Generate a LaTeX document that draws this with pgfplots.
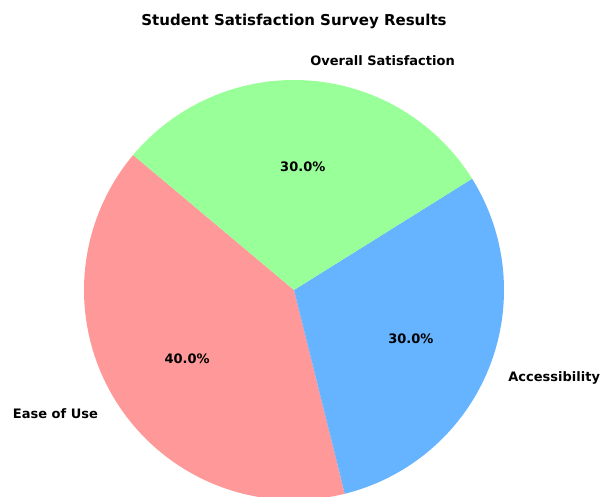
\documentclass[border=0pt]{standalone}
\usepackage{pgfplots}
\pgfplotsset{compat=1.18}
\usepackage{fontspec}
\setmainfont{DejaVu Sans}
\definecolor{cRed}{HTML}{FF9999}
\definecolor{cBlue}{HTML}{66B3FF}
\definecolor{cGreen}{HTML}{99FF99}
% data (percent)
\def\vEase{40}
\def\vAcc{30}
\def\vOver{30}
\def\startang{140}
\def\cx{294}
\def\cy{207}
\def\R{210}
\begin{document}
\begin{tikzpicture}
\pgfmathsetmacro{\aA}{\startang}
\pgfmathsetmacro{\aB}{\aA+3.6*\vEase}
\pgfmathsetmacro{\aC}{\aB+3.6*\vAcc}
\pgfmathsetmacro{\aD}{\aC+3.6*\vOver}
\begin{axis}[
  scale only axis, width=614pt, height=497pt,
  xmin=0, xmax=614, ymin=0, ymax=497,
  hide axis, clip=true,
]
\path[fill=white] (axis cs:0,0) rectangle (axis cs:614,497);
\addplot[fill=cRed, draw=none, domain=\aA:\aB, samples=120, variable=\t]
  ({\cx+\R*cos(\t)},{\cy+\R*sin(\t)}) -- (axis cs:\cx,\cy) -- cycle;
\addplot[fill=cBlue, draw=none, domain=\aB:\aC, samples=100, variable=\t]
  ({\cx+\R*cos(\t)},{\cy+\R*sin(\t)}) -- (axis cs:\cx,\cy) -- cycle;
\addplot[fill=cGreen, draw=none, domain=\aC:\aD, samples=100, variable=\t]
  ({\cx+\R*cos(\t)},{\cy+\R*sin(\t)}) -- (axis cs:\cx,\cy) -- cycle;
\end{axis}
\begin{axis}[
  scale only axis, width=614pt, height=497pt,
  xmin=0, xmax=614, ymin=0, ymax=497,
  hide axis, clip=false,
]
\pgfmathsetmacro{\mA}{(\aA+\aB)/2}
\pgfmathsetmacro{\mB}{(\aB+\aC)/2}
\pgfmathsetmacro{\mC}{(\aC+\aD)/2}
\node[font=\bfseries\fontsize{15}{18}\selectfont] at (axis cs:294,475.5) {Student Satisfaction Survey Results};
\node[font=\bfseries\fontsize{13}{15}\selectfont, anchor=east, inner sep=0pt] at (axis cs:{\cx+1.1*\R*cos(\mA)},{\cy-1+1.1*\R*sin(\mA)}) {Ease of Use};
\node[font=\bfseries\fontsize{13}{15}\selectfont, anchor=west, inner sep=0pt] at (axis cs:{\cx+1.1*\R*cos(\mB)},{\cy-1+1.1*\R*sin(\mB)}) {Accessibility};
\node[font=\bfseries\fontsize{13}{15}\selectfont, anchor=west, inner sep=0pt] at (axis cs:{\cx+1.1*\R*cos(\mC)},{\cy-1+1.1*\R*sin(\mC)}) {Overall Satisfaction};
\node[font=\bfseries\fontsize{13}{15}\selectfont, inner sep=0pt] at (axis cs:{\cx+0.6*\R*cos(\mA)},{\cy-2+0.6*\R*sin(\mA)}) {40.0\%};
\node[font=\bfseries\fontsize{13}{15}\selectfont, inner sep=0pt] at (axis cs:{\cx+0.6*\R*cos(\mB)},{\cy-2+0.6*\R*sin(\mB)}) {30.0\%};
\node[font=\bfseries\fontsize{13}{15}\selectfont, inner sep=0pt] at (axis cs:{\cx+0.6*\R*cos(\mC)},{\cy-2+0.6*\R*sin(\mC)}) {30.0\%};
\end{axis}
\end{tikzpicture}
\end{document}
